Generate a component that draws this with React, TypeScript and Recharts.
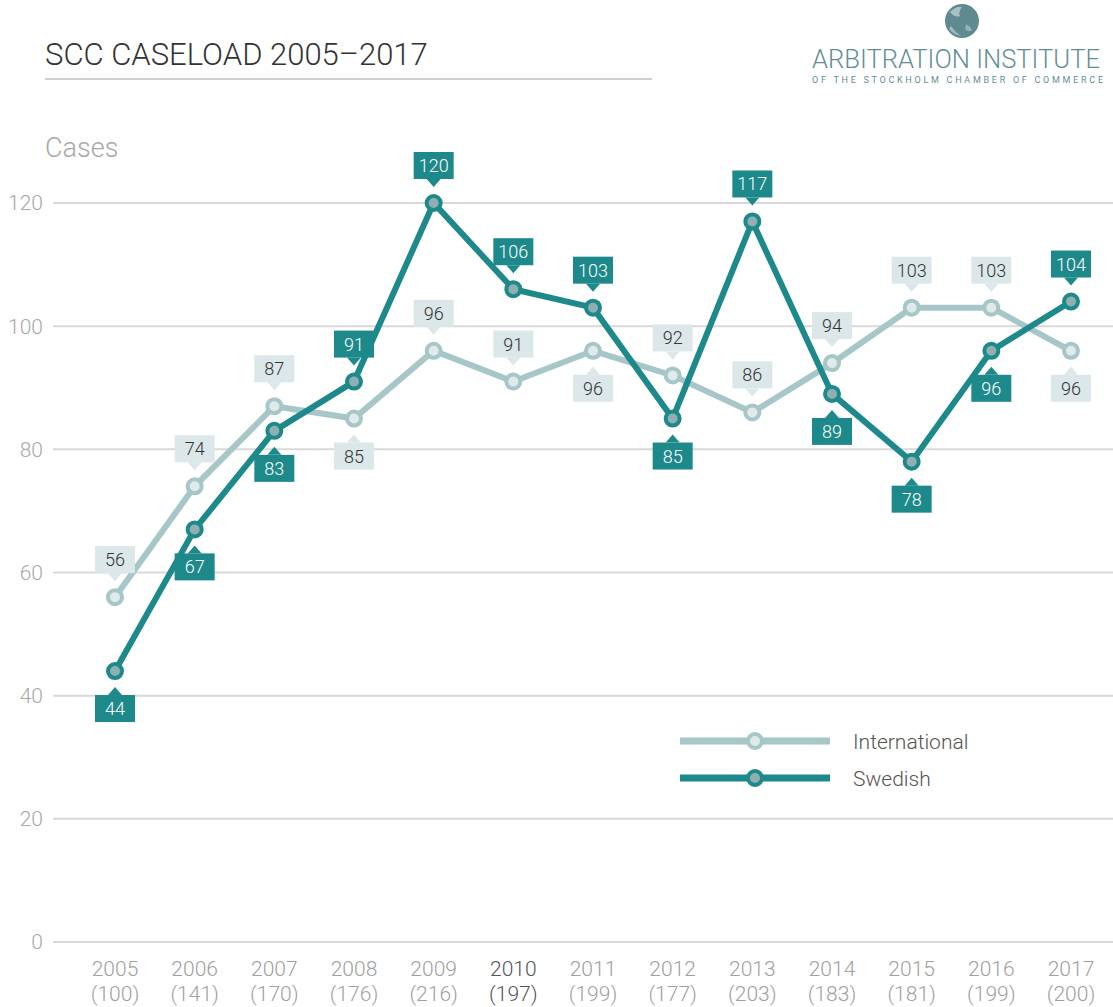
import React from 'react';
import { LineChart, Line, XAxis, YAxis, CartesianGrid, Legend } from 'recharts';

const years = ['2005', '2006', '2007', '2008', '2009', '2010', '2011', '2012', '2013', '2014', '2015', '2016', '2017'];
const totals = [100, 141, 170, 176, 216, 197, 199, 177, 203, 183, 181, 199, 200];
const international = [56, 74, 87, 85, 96, 91, 96, 92, 86, 94, 103, 103, 96];
const swedish = [44, 67, 83, 91, 120, 106, 103, 85, 117, 89, 78, 96, 104];
const yTicks = [0, 20, 40, 60, 80, 100, 120];
const seriesNames = ['International', 'Swedish'];

const data = years.map((y, i) => ({ year: y, total: totals[i], international: international[i], swedish: swedish[i] }));

const TEAL = '#1d898b';
const TEAL_DOT = '#8fafb1';
const LIGHT = '#a6c6c8';
const LIGHT_DOT = '#e1eaeb';
const LIGHT_BOX = '#dce7e9';
const FONT = "'Helvetica Neue', Roboto, 'Liberation Sans', Arial, sans-serif";

function renderLabel(props: any, series: 'int' | 'swe') {
  const { x, y, index, value } = props;
  if (x == null || y == null) return null;
  const iv = international[index];
  const sv = swedish[index];
  const above = series === 'swe' ? sv > iv : iv > sv || sv - iv >= 10;
  const w = 40;
  const dir = above ? -1 : 1;
  const boxNear = y + dir * 24;
  const boxFar = y + dir * 51;
  const tip = y + dir * 16;
  const top = Math.min(boxNear, boxFar);
  const fill = series === 'swe' ? TEAL : LIGHT_BOX;
  const color = series === 'swe' ? '#ffffff' : '#333333';
  return (
    <g key={`${series}-${index}`}>
      <rect x={x - w / 2} y={top} width={w} height={27} fill={fill} />
      <polygon points={`${x - 7},${boxNear} ${x + 7},${boxNear} ${x},${tip}`} fill={fill} />
      <text x={x} y={top + 13.5} dy="0.36em" textAnchor="middle" fontSize={18} fontFamily={FONT} fontWeight={300} fill={color}>
        {value}
      </text>
    </g>
  );
}

function XTick(props: any) {
  const { x, payload } = props;
  const i = years.indexOf(payload.value);
  const color = payload.value === '2010' ? '#555555' : '#a0a0a0';
  return (
    <g>
      <text x={x} y={968} dy="0.36em" textAnchor="middle" fontSize={21} fontFamily={FONT} fontWeight={300} fill={color}>
        {payload.value}
      </text>
      <text x={x} y={993} dy="0.36em" textAnchor="middle" fontSize={21} fontFamily={FONT} fontWeight={300} fill={color}>
        ({totals[i]})
      </text>
    </g>
  );
}

function LegendContent() {
  const rows = [
    { name: seriesNames[0], stroke: LIGHT, fill: LIGHT_DOT },
    { name: seriesNames[1], stroke: TEAL, fill: TEAL_DOT },
  ];
  return (
    <svg width={340} height={80}>
      {rows.map((r, i) => (
        <g key={r.name}>
          <line x1={10} x2={160} y1={21 + i * 37} y2={21 + i * 37} stroke={r.stroke} strokeWidth={7} />
          <circle cx={85} cy={21 + i * 37} r={7} fill={r.fill} stroke={r.stroke} strokeWidth={4} />
          <text x={183} y={21 + i * 37} dy="0.36em" fontSize={21} fontFamily={FONT} fontWeight={300} fill="#555555">
            {r.name}
          </text>
        </g>
      ))}
    </svg>
  );
}

export default function App() {
  return (
    <div style={{ position: 'absolute', left: 0, top: 0, width: 1113, height: 1007, background: '#ffffff' }}>
      <LineChart width={1113} height={1007} data={data} margin={{ top: 203, right: 0, bottom: 5, left: 0 }}>
        <CartesianGrid vertical={false} stroke="#d9d9d9" strokeWidth={2} />
        <XAxis
          dataKey="year"
          scale="point"
          padding={{ left: 62, right: 42 }}
          axisLine={false}
          tickLine={false}
          height={60}
          interval={0}
          tick={<XTick />}
        />
        <YAxis
          domain={[0, 120]}
          ticks={yTicks}
          width={53}
          axisLine={false}
          tickLine={false}
          tickSize={0}
          tickMargin={10}
          tick={{ fontSize: 21, fill: '#a8a8a8', fontFamily: FONT, fontWeight: 300 }}
        />
        <Legend
          layout="vertical"
          align="center"
          verticalAlign="middle"
          wrapperStyle={{ left: 670, top: 720, width: 340, height: 80 }}
          content={<LegendContent />}
        />
        <Line
          type="linear"
          dataKey="international"
          name={seriesNames[0]}
          stroke={LIGHT}
          strokeWidth={6}
          dot={{ r: 7, fill: LIGHT_DOT, stroke: LIGHT, strokeWidth: 4 }}
          activeDot={false}
          isAnimationActive={false}
          label={(p: any) => renderLabel(p, 'int')}
        />
        <Line
          type="linear"
          dataKey="swedish"
          name={seriesNames[1]}
          stroke={TEAL}
          strokeWidth={6}
          dot={{ r: 7, fill: TEAL_DOT, stroke: TEAL, strokeWidth: 4 }}
          activeDot={false}
          isAnimationActive={false}
          label={(p: any) => renderLabel(p, 'swe')}
        />
      </LineChart>
      <svg width={1113} height={190} style={{ position: 'absolute', left: 0, top: 0, pointerEvents: 'none' }}>
        <text x={45} y={65} fontSize={31} fontFamily={FONT} fontWeight={300} fill="#333333">
          SCC CASELOAD 2005–2017
        </text>
        <line x1={45} x2={652} y1={79} y2={79} stroke="#d0d0d0" strokeWidth={2} />
        <text x={45} y={157} fontSize={27} fontFamily={FONT} fontWeight={300} fill="#a8a8a8">
          Cases
        </text>
        <g>
          <circle cx={962} cy={21} r={17} fill="#5e8a90" />
          <path d="M950,12 q6,-6 12,-5 q-4,5 -2,9 q-5,2 -10,-4 z" fill="#c9d9db" opacity={0.7} />
          <path d="M951,26 q4,6 10,10 q-7,-1 -12,-7 z" fill="#c9d9db" opacity={0.6} />
          <path d="M966,24 q4,2 6,6 q-3,3 -7,-1 z" fill="#c9d9db" opacity={0.5} />
        </g>
        <text x={812} y={68} fontSize={25} fontFamily={FONT} fontWeight={300} fill="#5f8f94" textLength={288} lengthAdjust="spacingAndGlyphs">
          ARBITRATION INSTITUTE
        </text>
        <text x={812} y={83} fontSize={9} fontFamily={FONT} fill="#5f8f94" textLength={291} lengthAdjust="spacing">
          OF THE STOCKHOLM CHAMBER OF COMMERCE
        </text>
      </svg>
    </div>
  );
}
